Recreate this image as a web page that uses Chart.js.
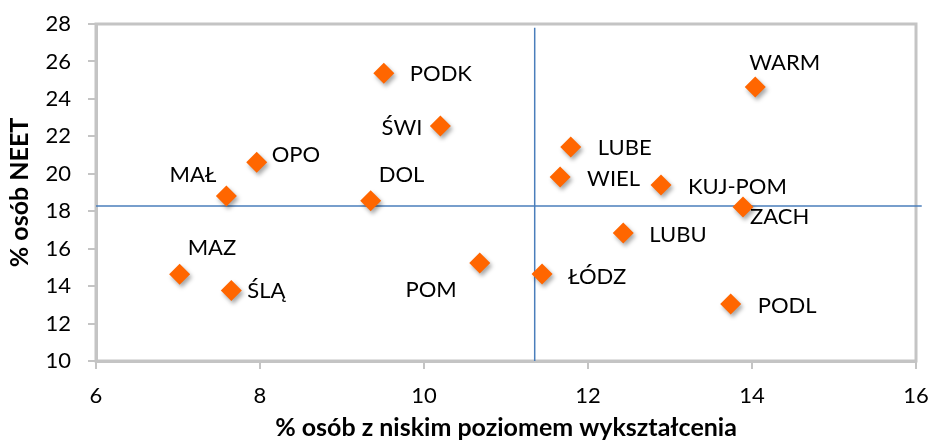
<!DOCTYPE html>
<html>
<head>
<meta charset="utf-8">
<script src="https://cdn.jsdelivr.net/npm/chart.js@4"></script>
<style>
html,body{margin:0;padding:0;background:#fff;}
#wrap{width:932px;height:443px;position:relative;}
</style>
</head>
<body>
<div id="wrap"><canvas id="c" width="932" height="443"></canvas></div>
<script>
// ---- data ----
const regions = ["MAZ","ŚLĄ","MAŁ","OPO","DOL","PODK","ŚWI","POM","ŁÓDZ","LUBE","WIEL","KUJ-POM","ZACH","LUBU","WARM","PODL"];
const lowEdu  = [7.02, 7.65, 7.59, 7.96, 9.35, 9.51, 10.20, 10.68, 11.44, 11.79, 11.66, 12.89, 13.89, 12.43, 14.04, 13.74];
const neet    = [14.63, 13.76, 18.81, 20.61, 18.56, 25.37, 22.55, 15.24, 14.65, 21.43, 19.83, 19.40, 18.23, 16.84, 24.64, 13.04];
const meanX = 11.35;
const meanY = 18.28;
const xTicks = [6, 8, 10, 12, 14, 16];
const yTicks = [10, 12, 14, 16, 18, 20, 22, 24, 26, 28];

// label placement (pixel offsets from marker, alignment) - styling only
const labelPlace = [
  [8,-26,'left'], [16,0,'left'], [-10,-21,'right'], [15,-7,'left'],
  [8,-26,'left'], [26,1,'left'], [-18,2,'right'], [-23,27,'right'],
  [26,3,'left'], [27,1,'left'], [27,2,'left'], [27,2,'left'],
  [7,10,'left'], [26,2,'left'], [-6,-24,'left'], [27,2,'left']
];

const points = lowEdu.map((x,i)=>({x:x, y:neet[i]}));

const shadowPlugin = {
  id:'shadow',
  beforeDatasetDraw(chart, args){
    if(args.index===0){
      const ctx=chart.ctx; ctx.save();
      ctx.shadowColor='rgba(0,0,0,0.35)';
      ctx.shadowOffsetX=2; ctx.shadowOffsetY=3; ctx.shadowBlur=4;
    }
  },
  afterDatasetDraw(chart, args){
    if(args.index===0){ chart.ctx.restore(); }
  }
};

const framePlugin = {
  id:'frame',
  beforeDatasetsDraw(chart){
    const {ctx, chartArea:a} = chart;
    ctx.save();
    ctx.strokeStyle='#c4c4c4';
    ctx.lineWidth=3;
    ctx.strokeRect(a.left, a.top, a.right-a.left, a.bottom-a.top);
    ctx.restore();
  }
};

const labelPlugin = {
  id:'labels',
  afterDatasetsDraw(chart){
    const ctx=chart.ctx;
    const meta=chart.getDatasetMeta(0);
    ctx.save();
    ctx.font='22px Lato';
    ctx.fillStyle='#000';
    ctx.textBaseline='middle';
    meta.data.forEach((el,i)=>{
      const p=labelPlace[i];
      ctx.textAlign=p[2];
      ctx.fillText(regions[i], el.x+p[0], el.y+p[1]);
    });
    ctx.restore();
  }
};

new Chart(document.getElementById('c'), {
  data:{
    datasets:[
      {
        type:'scatter',
        data:points,
        backgroundColor:'#ff6600',
        borderColor:'#ff6600',
        pointStyle:'rectRot',
        pointRadius:10.5,
        pointHoverRadius:10.5,
        borderWidth:0
      },
      {
        type:'line',
        data:[{x:meanX,y:27.8},{x:meanX,y:10}],
        borderColor:'#4a7ebb',
        borderWidth:1.5,
        pointRadius:0,
        showLine:true,
        clip:false
      },
      {
        type:'line',
        data:[{x:6,y:meanY},{x:16.07,y:meanY}],
        borderColor:'#4a7ebb',
        borderWidth:1.5,
        pointRadius:0,
        showLine:true,
        clip:false
      }
    ]
  },
  options:{
    responsive:false,
    animation:false,
    events:[],
    layout:{padding:{top:24,right:16,left:0,bottom:0}},
    plugins:{legend:{display:false},tooltip:{enabled:false}},
    scales:{
      x:{
        type:'linear', min:6, max:16,
        afterBuildTicks(s){ s.ticks = xTicks.map(v=>({value:v})); },
        afterFit(s){ s.height = 443-361; s.paddingLeft=0; s.paddingRight=0; },
        border:{display:true,color:'#c4c4c4',width:3},
        grid:{drawOnChartArea:false,drawTicks:true,tickLength:8,color:'#c4c4c4',lineWidth:2},
        ticks:{font:{family:'Lato',size:22},color:'#000',padding:14,maxRotation:0},
        title:{display:true,text:'% osób z niskim poziomem wykształcenia',font:{family:'Lato',size:25,weight:'bold'},color:'#000',padding:{top:0,bottom:0}}
      },
      y:{
        type:'linear', min:10, max:28,
        afterBuildTicks(s){ s.ticks = yTicks.map(v=>({value:v})); },
        afterFit(s){ s.width = 96; s.paddingTop=0; s.paddingBottom=0; },
        border:{display:true,color:'#c4c4c4',width:3},
        grid:{drawOnChartArea:false,drawTicks:true,tickLength:8,color:'#c4c4c4',lineWidth:2},
        ticks:{font:{family:'Lato',size:22},color:'#000',padding:17},
        title:{display:true,text:'% osób NEET',font:{family:'Lato',size:25,weight:'bold'},color:'#000',padding:{top:5,bottom:0}}
      }
    }
  },
  plugins:[shadowPlugin, framePlugin, labelPlugin]
});
</script>
</body>
</html>
